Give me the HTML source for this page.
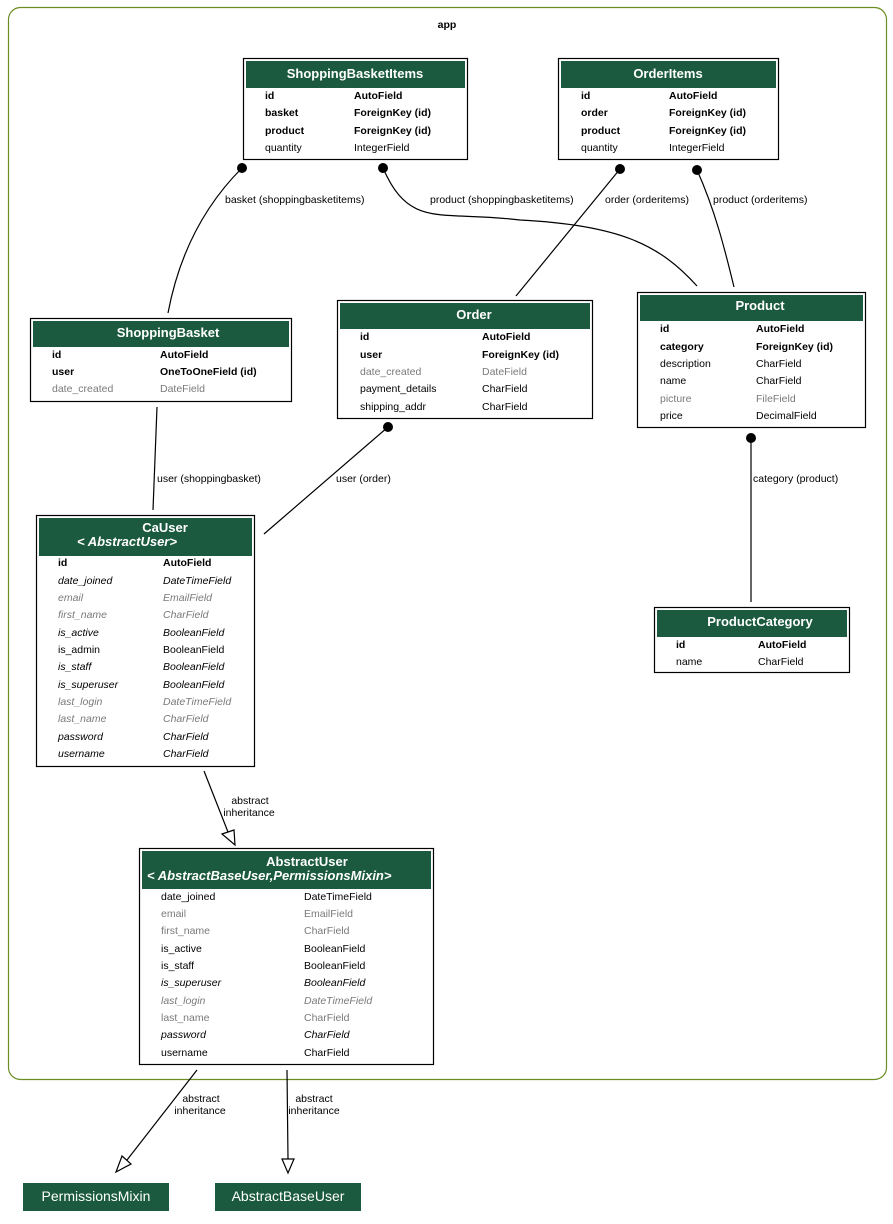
<!DOCTYPE html>
<html><head><meta charset="utf-8"><style>
html,body{margin:0;padding:0;background:#fff;}
svg{display:block;font-family:"Liberation Sans","DejaVu Sans",sans-serif;}
.t{font-size:10.5px;fill:#000;}
.b{font-weight:bold;}
.g{fill:#7a7a7a;}
.i{font-style:italic;}
.h{font-size:13px;font-weight:bold;fill:#fff;}
.hi{font-size:13px;font-weight:bold;font-style:italic;fill:#fff;}
.l{font-size:10.5px;fill:#000;}
.box{fill:#fff;stroke:#000;stroke-width:1.2;}
.hd{fill:#1b5a3e;}
.e{fill:none;stroke:#000;stroke-width:1.2;}
</style></head><body>
<svg width="893" height="1224" viewBox="0 0 893 1224">
<rect x="8.5" y="7.5" width="878" height="1072" rx="12" fill="#fff" stroke="#6b8e23" stroke-width="1.2"/>
<text x="447" y="28" class="t b" text-anchor="middle" font-size="13">app</text>

<!-- edges -->
<path class="e" d="M242,168 C200,210 178,260 168,313"/>
<circle cx="242" cy="168" r="5"/>
<path class="e" d="M383,168 C410,230 440,210 520,220 C620,225 660,245 697,286"/>
<circle cx="383" cy="168" r="5"/>
<path class="e" d="M620,169 L516,296"/>
<circle cx="620" cy="169" r="5"/>
<path class="e" d="M697,170 C715,210 725,250 734,287"/>
<circle cx="697" cy="170" r="5"/>
<path class="e" d="M157,407 L153,510"/>
<path class="e" d="M388,427 L264,534"/>
<circle cx="388" cy="427" r="5"/>
<path class="e" d="M751,438 L751,602"/>
<circle cx="751" cy="438" r="5"/>
<path class="e" d="M204,771 L228,832"/>
<polygon points="222,834 234,830 235,845" fill="#fff" stroke="#000" stroke-width="1.2"/>
<path class="e" d="M197,1070 L127,1160"/>
<polygon points="122,1156 131,1164 116,1172" fill="#fff" stroke="#000" stroke-width="1.2"/>
<path class="e" d="M287,1070 L288,1159"/>
<polygon points="282,1159 294,1159 288,1173" fill="#fff" stroke="#000" stroke-width="1.2"/>

<text class="l" x="225" y="203">basket (shoppingbasketitems)</text>
<text class="l" x="430" y="203">product (shoppingbasketitems)</text>
<text class="l" x="605" y="203">order (orderitems)</text>
<text class="l" x="713" y="203">product (orderitems)</text>
<text class="l" x="157" y="482">user (shoppingbasket)</text>
<text class="l" x="336" y="482">user (order)</text>
<text class="l" x="753" y="482">category (product)</text>
<text class="l" x="250" y="804" text-anchor="middle">abstract</text>
<text class="l" x="249" y="816" text-anchor="middle">inheritance</text>
<text class="l" x="201" y="1102" text-anchor="middle">abstract</text>
<text class="l" x="200" y="1114" text-anchor="middle">inheritance</text>
<text class="l" x="314" y="1102" text-anchor="middle">abstract</text>
<text class="l" x="314" y="1114" text-anchor="middle">inheritance</text>

<!-- ShoppingBasketItems -->
<rect class="box" x="243.5" y="58.5" width="224" height="101"/>
<rect class="hd" x="246" y="61" width="219" height="27"/>
<text class="h" x="355" y="78" text-anchor="middle">ShoppingBasketItems</text>
<text class="t b" x="265" y="99">id</text><text class="t b" x="354" y="99">AutoField</text>
<text class="t b" x="265" y="116">basket</text><text class="t b" x="354" y="116">ForeignKey (id)</text>
<text class="t b" x="265" y="134">product</text><text class="t b" x="354" y="134">ForeignKey (id)</text>
<text class="t" x="265" y="151">quantity</text><text class="t" x="354" y="151">IntegerField</text>

<!-- OrderItems -->
<rect class="box" x="558.5" y="58.5" width="220" height="101"/>
<rect class="hd" x="561" y="61" width="215" height="27"/>
<text class="h" x="668" y="78" text-anchor="middle">OrderItems</text>
<text class="t b" x="581" y="99">id</text><text class="t b" x="669" y="99">AutoField</text>
<text class="t b" x="581" y="116">order</text><text class="t b" x="669" y="116">ForeignKey (id)</text>
<text class="t b" x="581" y="134">product</text><text class="t b" x="669" y="134">ForeignKey (id)</text>
<text class="t" x="581" y="151">quantity</text><text class="t" x="669" y="151">IntegerField</text>

<!-- ShoppingBasket -->
<rect class="box" x="30.5" y="318.5" width="261" height="83"/>
<rect class="hd" x="33" y="321" width="256" height="26"/>
<text class="h" x="168" y="337" text-anchor="middle">ShoppingBasket</text>
<text class="t b" x="52" y="358">id</text><text class="t b" x="160" y="358">AutoField</text>
<text class="t b" x="52" y="375">user</text><text class="t b" x="160" y="375">OneToOneField (id)</text>
<text class="t g" x="52" y="392">date_created</text><text class="t g" x="160" y="392">DateField</text>

<!-- Order -->
<rect class="box" x="337.5" y="300.5" width="255" height="118"/>
<rect class="hd" x="340" y="303" width="250" height="26"/>
<text class="h" x="474" y="319" text-anchor="middle">Order</text>
<text class="t b" x="360" y="340">id</text><text class="t b" x="482" y="340">AutoField</text>
<text class="t b" x="360" y="358">user</text><text class="t b" x="482" y="358">ForeignKey (id)</text>
<text class="t g" x="360" y="375">date_created</text><text class="t g" x="482" y="375">DateField</text>
<text class="t" x="360" y="392">payment_details</text><text class="t" x="482" y="392">CharField</text>
<text class="t" x="360" y="410">shipping_addr</text><text class="t" x="482" y="410">CharField</text>

<!-- Product -->
<rect class="box" x="637.5" y="292.5" width="228" height="135"/>
<rect class="hd" x="640" y="295" width="223" height="26"/>
<text class="h" x="760" y="310" text-anchor="middle">Product</text>
<text class="t b" x="660" y="332">id</text><text class="t b" x="756" y="332">AutoField</text>
<text class="t b" x="660" y="350">category</text><text class="t b" x="756" y="350">ForeignKey (id)</text>
<text class="t" x="660" y="367">description</text><text class="t" x="756" y="367">CharField</text>
<text class="t" x="660" y="384">name</text><text class="t" x="756" y="384">CharField</text>
<text class="t g" x="660" y="402">picture</text><text class="t g" x="756" y="402">FileField</text>
<text class="t" x="660" y="419">price</text><text class="t" x="756" y="419">DecimalField</text>

<!-- ProductCategory -->
<rect class="box" x="654.5" y="607.5" width="195" height="65"/>
<rect class="hd" x="657" y="610" width="190" height="27"/>
<text class="h" x="760" y="626" text-anchor="middle">ProductCategory</text>
<text class="t b" x="676" y="648">id</text><text class="t b" x="758" y="648">AutoField</text>
<text class="t" x="676" y="665">name</text><text class="t" x="758" y="665">CharField</text>

<!-- CaUser -->
<rect class="box" x="36.5" y="515.5" width="218" height="251"/>
<rect class="hd" x="39" y="518" width="213" height="38"/>
<text class="h" x="165" y="532" text-anchor="middle">CaUser</text>
<text class="hi" x="77" y="546">&lt; AbstractUser&gt;</text>
<text class="t b" x="58" y="566">id</text><text class="t b" x="163" y="566">AutoField</text>
<text class="t i" x="58" y="584">date_joined</text><text class="t i" x="163" y="584">DateTimeField</text>
<text class="t g i" x="58" y="601">email</text><text class="t g i" x="163" y="601">EmailField</text>
<text class="t g i" x="58" y="618">first_name</text><text class="t g i" x="163" y="618">CharField</text>
<text class="t i" x="58" y="636">is_active</text><text class="t i" x="163" y="636">BooleanField</text>
<text class="t" x="58" y="653">is_admin</text><text class="t" x="163" y="653">BooleanField</text>
<text class="t i" x="58" y="670">is_staff</text><text class="t i" x="163" y="670">BooleanField</text>
<text class="t i" x="58" y="688">is_superuser</text><text class="t i" x="163" y="688">BooleanField</text>
<text class="t g i" x="58" y="705">last_login</text><text class="t g i" x="163" y="705">DateTimeField</text>
<text class="t g i" x="58" y="722">last_name</text><text class="t g i" x="163" y="722">CharField</text>
<text class="t i" x="58" y="740">password</text><text class="t i" x="163" y="740">CharField</text>
<text class="t i" x="58" y="757">username</text><text class="t i" x="163" y="757">CharField</text>

<!-- AbstractUser -->
<rect class="box" x="139.5" y="848.5" width="294" height="216"/>
<rect class="hd" x="142" y="851" width="289" height="38"/>
<text class="h" x="307" y="866" text-anchor="middle">AbstractUser</text>
<text class="hi" x="147" y="880">&lt; AbstractBaseUser,PermissionsMixin&gt;</text>
<text class="t" x="161" y="900">date_joined</text><text class="t" x="304" y="900">DateTimeField</text>
<text class="t g" x="161" y="917">email</text><text class="t g" x="304" y="917">EmailField</text>
<text class="t g" x="161" y="934">first_name</text><text class="t g" x="304" y="934">CharField</text>
<text class="t" x="161" y="952">is_active</text><text class="t" x="304" y="952">BooleanField</text>
<text class="t" x="161" y="969">is_staff</text><text class="t" x="304" y="969">BooleanField</text>
<text class="t i" x="161" y="986">is_superuser</text><text class="t i" x="304" y="986">BooleanField</text>
<text class="t g i" x="161" y="1004">last_login</text><text class="t g i" x="304" y="1004">DateTimeField</text>
<text class="t g" x="161" y="1021">last_name</text><text class="t g" x="304" y="1021">CharField</text>
<text class="t i" x="161" y="1038">password</text><text class="t i" x="304" y="1038">CharField</text>
<text class="t" x="161" y="1056">username</text><text class="t" x="304" y="1056">CharField</text>

<!-- external -->
<rect x="23" y="1183" width="146" height="28" fill="#1b5a3e"/>
<text x="96" y="1201" text-anchor="middle" font-size="14" fill="#fff">PermissionsMixin</text>
<rect x="215" y="1183" width="146" height="28" fill="#1b5a3e"/>
<text x="288" y="1201" text-anchor="middle" font-size="14" fill="#fff">AbstractBaseUser</text>
</svg>
</body></html>
